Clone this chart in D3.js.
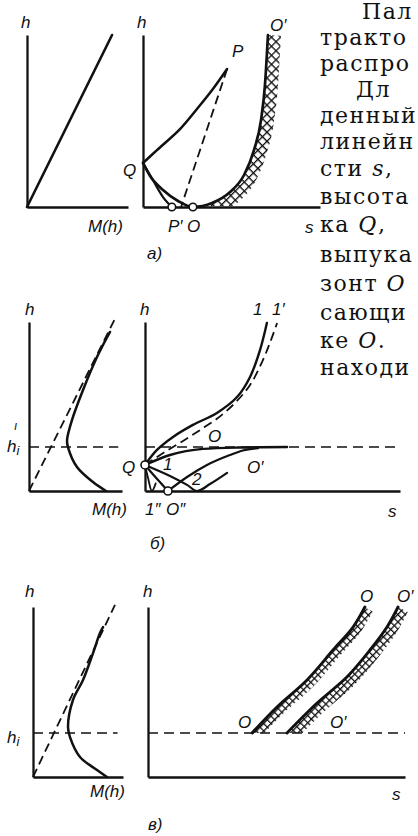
<!DOCTYPE html>
<html>
<head>
<meta charset="utf-8">
<script src="https://cdn.jsdelivr.net/npm/d3@7"></script>
<style>
  body { margin: 0; background: #fff; }
  svg { display: block; }
  .lab { font-family: "Liberation Sans Narrow", "Liberation Sans", "DejaVu Sans", sans-serif; font-style: italic; font-size: 17px; fill: #111; }
  .body { font-family: "DejaVu Serif", "Liberation Serif", serif; font-size: 22px; fill: #111; letter-spacing: 1.5px; }
</style>
</head>
<body>
<svg id="fig" width="418" height="836"></svg>
<script>
// ---- Panel a: linear M(h), trajectories in (s, h) ----
const aLinearM   = [[0, 0], [8.42, 10]];
const aQtoP      = [[0, 2.56], [0.79, 3.31], [2.09, 4.53], [3.05, 5.70], [3.95, 6.86], [4.75, 8.02]];
const aPtoPprime = [[4.75, 8.02], [2.15, 0]];
const aQtoPprime = [[0, 2.56], [0.56, 1.57], [1.13, 0.58], [1.63, 0]];
const aQtoOprime = [[0, 2.56], [0.40, 1.80], [1.13, 0.99], [1.98, 0.35], [2.82, 0], [3.90, 0.23],
                    [4.92, 0.87], [5.71, 1.86], [6.27, 3.31], [6.67, 5.06], [6.89, 7.09], [7.06, 10.0]];
const aRings     = [[1.63, 0], [2.82, 0]];          // P', O

// ---- Panel б: M(h) with a minimum at h_i ----
const bDiag   = [[0, 0], [9.25, 10.2]];
const bHi     = 2.6;
const bM      = [[8.28, 0], [6.88, 0.53], [5.16, 1.42], [4.19, 2.60], [4.09, 3.02], [4.62, 4.20],
                 [5.81, 5.98], [7.31, 7.93], [7.96, 8.64], [8.71, 9.41]];
const bRay1   = [[0, 1.54], [0.47, 2.43], [1.10, 3.20], [1.88, 3.91], [2.82, 4.62], [3.61, 5.56],
                 [4.12, 6.75], [4.51, 8.34], [4.78, 9.94]];
const bRay1p  = [[0, 1.54], [0.78, 2.31], [1.49, 2.96], [2.16, 3.61], [2.86, 4.32], [3.53, 5.21],
                 [4.12, 6.27], [4.59, 7.63], [4.94, 8.93], [5.18, 9.94]];
const bRay0   = [[0, 1.54], [0.98, 2.13], [2.27, 2.49], [3.61, 2.57], [5.57, 2.60]];
const bRay0p  = [[0.90, 0], [1.65, 0.83], [2.43, 1.54], [3.33, 2.13], [3.84, 2.40], [4.43, 2.54]];
const bRayQ1  = [[0, 1.54], [0.45, 0.75], [0.90, 0]];
const bRay2   = [[0, 1.54], [0.98, 0.89], [1.65, 0.36], [2.04, 0], [2.55, 0.41], [3.22, 1.07]];
const bRay1pp = [[0, 1.54], [0.12, 0.77], [0.27, 0], [0.42, 0.45]];
const bRings  = [[0, 1.54], [0.90, 0]];             // Q, O''

// ---- Panel в: same M(h), source above h_i ----
const cDiag = [[0, 0], [9.11, 10.12]];
const cHi   = 2.59;
const cM    = [[8.22, 0], [7.11, 0.41], [5.22, 1.18], [4.11, 2.35], [3.89, 2.94], [4.44, 4.53],
               [5.56, 5.71], [6.67, 7.29], [7.44, 8.47], [7.78, 8.82]];
const cO    = [[4.05, 2.59], [5.02, 4.12], [6.19, 5.71], [7.20, 7.47], [7.98, 8.82], [8.44, 10.0]];
const cOp   = [[5.41, 2.59], [6.58, 4.35], [7.74, 5.88], [8.64, 7.47], [9.30, 8.82], [9.73, 10.0]];

// ---- running text beside the figure ----
const textLines = [
  { x: 362, y: 19,  parts: [["Пал"]] },
  { x: 320, y: 45,  parts: [["тракто"]] },
  { x: 320, y: 71,  parts: [["распро"]] },
  { x: 356, y: 97,  parts: [["Дл"]] },
  { x: 320, y: 123, parts: [["денный"]] },
  { x: 320, y: 149, parts: [["линейн"]] },
  { x: 320, y: 176, parts: [["сти "], ["s", 1], [","]] },
  { x: 320, y: 204, parts: [["высота"]] },
  { x: 320, y: 232, parts: [["ка "], ["Q", 1], [","]] },
  { x: 320, y: 262, parts: [["выпука"]] },
  { x: 320, y: 291, parts: [["зонт "], ["O", 1]] },
  { x: 320, y: 320, parts: [["сающи"]] },
  { x: 320, y: 348, parts: [["ке "], ["O", 1], ["."]] },
  { x: 320, y: 375, parts: [["находи"]] }
];

const ink = "#111";
const svg = d3.select("#fig");
const defs = svg.append("defs");

// cross-hatch fills
function gridPattern(id, size, angle, w) {
  const p = defs.append("pattern").attr("id", id)
    .attr("patternUnits", "userSpaceOnUse")
    .attr("width", size).attr("height", size)
    .attr("patternTransform", `rotate(${angle})`);
  p.append("path").attr("d", `M0,0.6H${size}M0.6,0V${size}`)
    .attr("stroke", ink).attr("stroke-width", w).attr("fill", "none");
}
gridPattern("diam", 6.4, 45, 1.4);
gridPattern("grid", 5.2, -46, 1.3);

function panel(xr, yr) {
  return { x: d3.scaleLinear().domain([0, 10]).range(xr),
           y: d3.scaleLinear().domain([0, 10]).range(yr) };
}
const pAL = panel([27, 128], [207, 35]);
const pAR = panel([143, 320], [207, 35]);
const pBL = panel([29, 122], [491, 322]);
const pBR = panel([145, 400], [491, 322]);
const pCL = panel([33, 123], [777, 607]);
const pCR = panel([148, 405], [777, 607]);

function axes(p) {
  const g = svg.append("g");
  g.append("g").attr("transform", `translate(0,${p.y(0)})`)
    .call(d3.axisBottom(p.x).tickValues([]).tickSizeOuter(0));
  g.append("g").attr("transform", `translate(${p.x(0)},0)`)
    .call(d3.axisLeft(p.y).tickValues([]).tickSizeOuter(0));
  g.selectAll(".domain").attr("stroke", ink).attr("stroke-width", 2.3);
}

function lineGen(p, kind) {
  return d3.line().x(d => p.x(d[0])).y(d => p.y(d[1]))
    .curve(kind === "lin" ? d3.curveLinear
         : kind === "mx" ? d3.curveMonotoneX
         : d3.curveCatmullRom.alpha(0.5));
}

function curve(p, data, opt = {}) {
  return svg.append("path").attr("d", lineGen(p, opt.kind)(data))
    .attr("fill", "none").attr("stroke", ink)
    .attr("stroke-width", opt.w || 2.5)
    .attr("stroke-dasharray", opt.dash || null)
    .attr("stroke-linecap", opt.dash ? "butt" : "round")
    .attr("stroke-linejoin", "round");
}

// band of hatching along the right-hand side of a curve
function hatch(p, data, kind, width, fill, fromX, clipY) {
  const tmp = svg.append("path").attr("d", lineGen(p, kind)(data)).attr("fill", "none");
  const node = tmp.node(), L = node.getTotalLength();
  const pts = d3.range(0, L + 1, 1.5).map(l => node.getPointAtLength(Math.min(l, L)))
    .filter(pt => pt.x >= fromX);
  tmp.remove();
  const outer = pts.map((pt, i) => {
    const a = pts[Math.max(i - 2, 0)], b = pts[Math.min(i + 2, pts.length - 1)];
    let tx = b.x - a.x, ty = b.y - a.y;
    const n = Math.hypot(tx, ty) || 1; tx /= n; ty /= n;
    return [pt.x - ty * width, pt.y + tx * width];
  });
  const poly = pts.map(pt => [pt.x, pt.y]).concat(outer.reverse());
  const cid = "clip" + Math.round(fromX) + "_" + Math.round(clipY) + "_" + Math.round(width);
  defs.append("clipPath").attr("id", cid)
    .append("rect").attr("x", 0).attr("y", 0).attr("width", 418).attr("height", clipY);
  svg.append("path").attr("d", d3.line()(poly) + "Z")
    .attr("fill", `url(#${fill})`).attr("stroke", "none")
    .attr("clip-path", `url(#${cid})`);
}

function ring(p, d, r = 3.8) {
  svg.append("circle").attr("cx", p.x(d[0])).attr("cy", p.y(d[1])).attr("r", r)
    .attr("fill", "#fff").attr("stroke", ink).attr("stroke-width", 1.6);
}

function label(x, y, t, opt = {}) {
  const el = svg.append("text").attr("class", "lab").attr("x", x).attr("y", y)
    .attr("text-anchor", opt.anchor || "start");
  if (opt.size) el.style("font-size", opt.size + "px");
  el.text(t);
  return el;
}

function hLabel(x, y, tick) {
  const el = svg.append("text").attr("class", "lab").attr("x", x).attr("y", y);
  el.append("tspan").text("h");
  el.append("tspan").attr("dy", 3).style("font-size", "13px").text("i");
  if (tick) label(x + 7, y - 22, "ı", { size: 12 });
}

const dash = "9,5";
const hiDash = "10,6";

// ===== a) =====
axes(pAL);
curve(pAL, aLinearM, { kind: "lin", w: 2.6 });
label(21, 28, "h");
label(88, 232, "M(h)");
label(147, 259, "а)");

hatch(pAR, aQtoOprime, "mx", 13, "diam", pAR.x(3.7), pAR.y(0) - 1);
axes(pAR);
curve(pAR, aQtoP);
curve(pAR, aPtoPprime, { kind: "lin", dash: dash, w: 1.8 });
curve(pAR, aQtoPprime, { kind: "mx", w: 2.2 });
curve(pAR, aQtoOprime, { kind: "mx", w: 2.7 });
aRings.forEach(d => ring(pAR, d));
label(137, 28, "h");
label(270, 31, "O′");
label(232, 57, "P");
label(123, 176, "Q");
label(168, 232, "P′");
label(187, 232, "O");
label(305, 233, "s");

// ===== б) =====
axes(pBL);
curve(pBL, bDiag, { kind: "lin", dash: dash, w: 1.8 });
curve(pBL, [[0, bHi], [9.6, bHi]], { kind: "lin", dash: hiDash, w: 1.6 });
curve(pBL, bM, { w: 2.5 });
label(25, 315, "h");
hLabel(7, 452, true);
label(127, 515, "M(h)", { anchor: "end" });
label(150, 549, "б)");

axes(pBR);
curve(pBR, [[0, bHi], [10, bHi]], { kind: "lin", dash: hiDash, w: 1.6 });
curve(pBR, bRay1, { w: 2.4 });
curve(pBR, bRay1p, { dash: dash, w: 1.8 });
curve(pBR, bRay0, { kind: "mx", w: 2.4 });
curve(pBR, bRay0p, { kind: "mx", w: 2.2 });
curve(pBR, bRayQ1, { w: 2.2 });
curve(pBR, bRay2, { w: 2.2 });
curve(pBR, bRay1pp, { w: 1.8 });
bRings.forEach(d => ring(pBR, d, 4));
label(140, 315, "h");
label(253, 315, "1");
label(272, 315, "1′");
label(208, 442, "O");
label(247, 473, "O′");
label(163, 470, "1");
label(192, 485, "2");
label(122, 473, "Q");
label(145, 515, "1″");
label(166, 515, "O″");
label(388, 517, "s");

// ===== в) =====
axes(pCL);
curve(pCL, cDiag, { kind: "lin", dash: dash, w: 1.8 });
curve(pCL, [[0, cHi], [9.4, cHi]], { kind: "lin", dash: hiDash, w: 1.6 });
curve(pCL, cM, { w: 2.5 });
label(25, 597, "h");
hLabel(7, 743, false);
label(90, 797, "M(h)");
label(148, 830, "в)");

hatch(pCR, cO, "cr", 9, "grid", 0, pCR.y(cHi));
hatch(pCR, cOp, "cr", 11, "grid", 0, pCR.y(cHi));
axes(pCR);
curve(pCR, [[0, cHi], [10, cHi]], { kind: "lin", dash: hiDash, w: 1.6 });
curve(pCR, cO, { w: 2.9 });
curve(pCR, cOp, { w: 2.9 });
label(143, 597, "h");
label(360, 602, "O");
label(397, 602, "O′");
label(238, 728, "O");
label(330, 728, "O′");
label(392, 800, "s");

// ===== running text =====
textLines.forEach(line => {
  const t = svg.append("text").attr("class", "body").attr("x", line.x).attr("y", line.y);
  line.parts.forEach(([s, it]) => {
    const sp = t.append("tspan").text(s);
    if (it) sp.style("font-style", "italic");
  });
});
</script>
</body>
</html>
